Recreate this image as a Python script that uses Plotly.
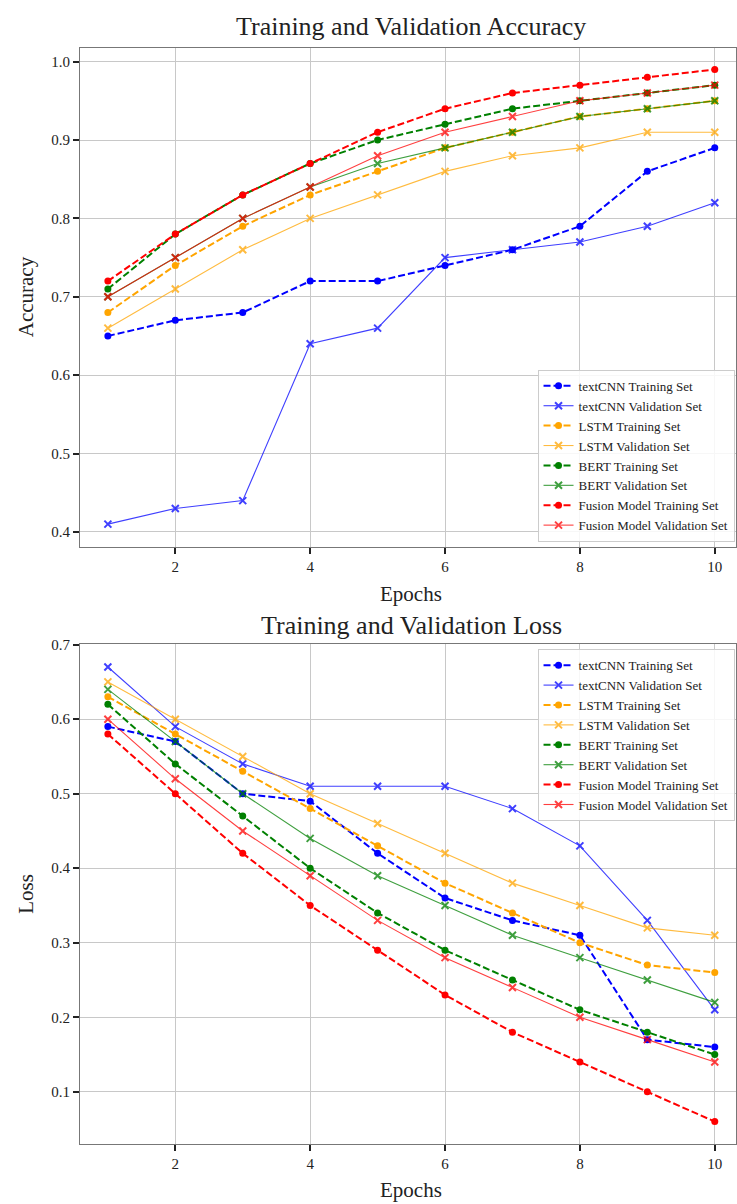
import plotly.graph_objects as go

epochs = [1, 2, 3, 4, 5, 6, 7, 8, 9, 10]
models = ["textCNN", "LSTM", "BERT", "Fusion Model"]
colors = ["#0000ff", "#ffa500", "#008000", "#ff0000"]

acc_train_textcnn = [0.65, 0.67, 0.68, 0.72, 0.72, 0.74, 0.76, 0.79, 0.86, 0.89]
acc_val_textcnn = [0.41, 0.43, 0.44, 0.64, 0.66, 0.75, 0.76, 0.77, 0.79, 0.82]
acc_train_lstm = [0.68, 0.74, 0.79, 0.83, 0.86, 0.89, 0.91, 0.93, 0.94, 0.95]
acc_val_lstm = [0.66, 0.71, 0.76, 0.80, 0.83, 0.86, 0.88, 0.89, 0.91, 0.91]
acc_train_bert = [0.71, 0.78, 0.83, 0.87, 0.90, 0.92, 0.94, 0.95, 0.96, 0.97]
acc_val_bert = [0.70, 0.75, 0.80, 0.84, 0.87, 0.89, 0.91, 0.93, 0.94, 0.95]
acc_train_fusion = [0.72, 0.78, 0.83, 0.87, 0.91, 0.94, 0.96, 0.97, 0.98, 0.99]
acc_val_fusion = [0.70, 0.75, 0.80, 0.84, 0.88, 0.91, 0.93, 0.95, 0.96, 0.97]

loss_train_textcnn = [0.59, 0.57, 0.50, 0.49, 0.42, 0.36, 0.33, 0.31, 0.17, 0.16]
loss_val_textcnn = [0.67, 0.59, 0.54, 0.51, 0.51, 0.51, 0.48, 0.43, 0.33, 0.21]
loss_train_lstm = [0.63, 0.58, 0.53, 0.48, 0.43, 0.38, 0.34, 0.30, 0.27, 0.26]
loss_val_lstm = [0.65, 0.60, 0.55, 0.50, 0.46, 0.42, 0.38, 0.35, 0.32, 0.31]
loss_train_bert = [0.62, 0.54, 0.47, 0.40, 0.34, 0.29, 0.25, 0.21, 0.18, 0.15]
loss_val_bert = [0.64, 0.57, 0.50, 0.44, 0.39, 0.35, 0.31, 0.28, 0.25, 0.22]
loss_train_fusion = [0.58, 0.50, 0.42, 0.35, 0.29, 0.23, 0.18, 0.14, 0.10, 0.06]
loss_val_fusion = [0.60, 0.52, 0.45, 0.39, 0.33, 0.28, 0.24, 0.20, 0.17, 0.14]

acc_train = [acc_train_textcnn, acc_train_lstm, acc_train_bert, acc_train_fusion]
acc_val = [acc_val_textcnn, acc_val_lstm, acc_val_bert, acc_val_fusion]
loss_train = [loss_train_textcnn, loss_train_lstm, loss_train_bert, loss_train_fusion]
loss_val = [loss_val_textcnn, loss_val_lstm, loss_val_bert, loss_val_fusion]

FONT = "Palatino Linotype, Palatino, Book Antiqua, Liberation Serif, serif"
TXT = "#222222"
W, H = 737, 1204

fig = go.Figure()

def add_series(train_sets, val_sets, xaxis, yaxis, legend):
    for name, col, tr, va in zip(models, colors, train_sets, val_sets):
        fig.add_trace(go.Scatter(
            x=epochs, y=tr, mode="lines+markers", name=f"{name} Training Set",
            line=dict(color=col, width=2, dash="7px,3px"),
            marker=dict(symbol="circle", size=7, color=col),
            xaxis=xaxis, yaxis=yaxis, legend=legend))
        fig.add_trace(go.Scatter(
            x=epochs, y=va, mode="lines+markers", name=f"{name} Validation Set",
            line=dict(color=col, width=1.1), opacity=0.75,
            marker=dict(symbol="x-thin", size=7, color=col, line=dict(color=col, width=2)),
            xaxis=xaxis, yaxis=yaxis, legend=legend))

add_series(acc_train, acc_val, "x", "y", "legend")
add_series(loss_train, loss_val, "x2", "y2", "legend2")

axis_common = dict(
    showgrid=True, gridcolor="#c8c8c8", gridwidth=1,
    showline=True, linecolor="#777777", linewidth=1, mirror=True,
    ticks="outside", ticklen=6, tickcolor="#222222", tickwidth=1.5,
    tickfont=dict(family=FONT, size=15, color=TXT),
    zeroline=False,
)

def py(p):
    return 1 - p / H

fig.update_layout(
    width=W, height=H,
    margin=dict(l=0, r=0, t=0, b=0),
    paper_bgcolor="white", plot_bgcolor="white",
    font=dict(family=FONT, color=TXT),
    xaxis=dict(domain=[80 / W, 1.0], range=[0.585, 10.315], tickvals=[2, 4, 6, 8, 10],
               anchor="y", **axis_common),
    yaxis=dict(domain=[py(543), py(41)], range=[0.381, 1.0177],
               tickvals=[0.4, 0.5, 0.6, 0.7, 0.8, 0.9, 1.0], tickformat=".1f",
               anchor="x", **axis_common),
    xaxis2=dict(domain=[80 / W, 1.0], range=[0.585, 10.315], tickvals=[2, 4, 6, 8, 10],
                anchor="y2", **axis_common),
    yaxis2=dict(domain=[py(1144), py(641)], range=[0.0295, 0.7005],
                tickvals=[0.1, 0.2, 0.3, 0.4, 0.5, 0.6, 0.7], tickformat=".1f",
                anchor="x2", **axis_common),
    legend=dict(x=0.998, y=py(538), xanchor="right", yanchor="bottom",
                bgcolor="rgba(255,255,255,0.85)", bordercolor="#cccccc", borderwidth=1,
                font=dict(family=FONT, size=13, color=TXT),
                tracegroupgap=0, itemwidth=30),
    legend2=dict(x=0.998, y=py(646), xanchor="right", yanchor="top",
                 bgcolor="rgba(255,255,255,0.85)", bordercolor="#cccccc", borderwidth=1,
                 font=dict(family=FONT, size=13, color=TXT),
                 tracegroupgap=0, itemwidth=30),
    annotations=[
        dict(text="Training and Validation Accuracy", x=412 / W, y=py(20), xref="paper", yref="paper",
             showarrow=False, font=dict(family=FONT, size=26, color=TXT), yanchor="middle"),
        dict(text="Training and Validation Loss", x=412 / W, y=py(622), xref="paper", yref="paper",
             showarrow=False, font=dict(family=FONT, size=26, color=TXT), yanchor="middle"),
        dict(text="Accuracy", x=26 / W, y=py(291), xref="paper", yref="paper", textangle=-90,
             showarrow=False, font=dict(family=FONT, size=21, color=TXT), xanchor="center", yanchor="middle"),
        dict(text="Loss", x=26 / W, y=py(892), xref="paper", yref="paper", textangle=-90,
             showarrow=False, font=dict(family=FONT, size=21, color=TXT), xanchor="center", yanchor="middle"),
        dict(text="Epochs", x=412 / W, y=py(590), xref="paper", yref="paper",
             showarrow=False, font=dict(family=FONT, size=21, color=TXT), yanchor="middle"),
        dict(text="Epochs", x=412 / W, y=py(1190), xref="paper", yref="paper",
             showarrow=False, font=dict(family=FONT, size=21, color=TXT), yanchor="middle"),
    ],
)

fig.write_html(
    "out.html",
    config={"displayModeBar": False},
    default_width="737px", default_height="1204px",
    post_script=(
        "document.documentElement.style.margin='0px';"
        "document.documentElement.style.padding='0px';"
        "document.documentElement.style.overflow='hidden';"
        "document.body.style.margin='0px';"
        "document.body.style.padding='0px';"
        "document.body.style.overflow='hidden';"
        "document.body.style.height='1204px';"
        "var d=document.getElementById('{plot_id}');"
        "d.style.position='fixed';d.style.top='0px';d.style.left='0px';"
    ),
)
